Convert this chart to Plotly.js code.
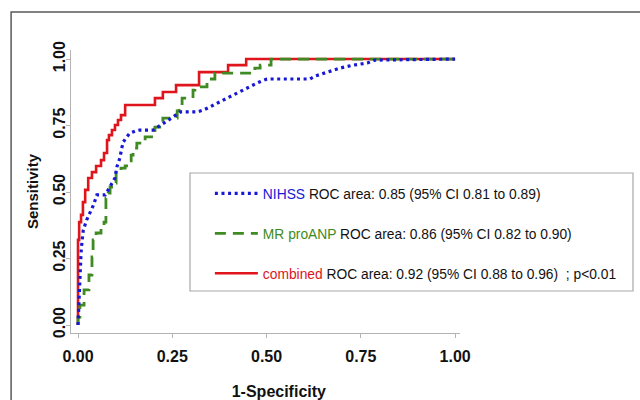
<!DOCTYPE html>
<html>
<head>
<meta charset="utf-8">
<script src="https://cdn.plot.ly/plotly-3.0.1.min.js"></script>
<style>
  html, body { margin: 0; padding: 0; background: #fff; }
  #chart { width: 640px; height: 400px; }
</style>
</head>
<body>
<div id="chart"></div>
<script>
// ROC curve data (1-specificity, sensitivity)
const combinedFpr = [0, 0, 0.003, 0.008, 0.013, 0.019, 0.027, 0.037, 0.048, 0.061, 0.069, 0.077, 0.082, 0.090, 0.098, 0.106, 0.114, 0.125, 0.204, 0.225, 0.260, 0.321, 0.398, 0.446, 1.0];
const combinedTpr = [0, 0.320, 0.387, 0.414, 0.462, 0.508, 0.553, 0.575, 0.598, 0.620, 0.647, 0.695, 0.714, 0.733, 0.752, 0.771, 0.789, 0.827, 0.853, 0.876, 0.902, 0.951, 0.977, 1.0, 1.0];

const proanpFpr = [0, 0, 0.005, 0.016, 0.029, 0.037, 0.040, 0.048, 0.061, 0.069, 0.074, 0.080, 0.085, 0.093, 0.101, 0.114, 0.125, 0.133, 0.141, 0.146, 0.156, 0.164, 0.178, 0.204, 0.225, 0.263, 0.268, 0.276, 0.305, 0.310, 0.342, 0.347, 0.363, 0.469, 0.483, 0.512, 1.0];
const proanpTpr = [0, 0.030, 0.075, 0.132, 0.188, 0.256, 0.320, 0.346, 0.368, 0.387, 0.477, 0.496, 0.519, 0.534, 0.575, 0.590, 0.598, 0.617, 0.639, 0.665, 0.684, 0.695, 0.707, 0.744, 0.778, 0.805, 0.816, 0.853, 0.883, 0.895, 0.910, 0.925, 0.947, 0.966, 0.977, 1.0, 1.0];

const nihssFpr = [0, 0.001, 0.003, 0.005, 0.008, 0.011, 0.014, 0.023, 0.032, 0.041, 0.050, 0.072, 0.080, 0.089, 0.098, 0.103, 0.111, 0.116, 0.120, 0.129, 0.138, 0.151, 0.164, 0.199, 0.218, 0.236, 0.252, 0.271, 0.316, 0.332, 0.350, 0.369, 0.395, 0.422, 0.448, 0.475, 0.501, 0.615, 0.629, 0.660, 0.695, 0.729, 0.767, 0.788, 1.0];
const nihssTpr = [0, 0.045, 0.120, 0.195, 0.271, 0.320, 0.357, 0.395, 0.425, 0.451, 0.489, 0.489, 0.508, 0.530, 0.553, 0.594, 0.628, 0.665, 0.688, 0.707, 0.722, 0.729, 0.733, 0.733, 0.752, 0.767, 0.782, 0.801, 0.801, 0.808, 0.820, 0.835, 0.853, 0.872, 0.891, 0.910, 0.925, 0.925, 0.936, 0.951, 0.966, 0.977, 0.985, 0.996, 1.0];

const xTickVals = [0, 0.25, 0.5, 0.75, 1.0];
const xTickText = ['0.00', '0.25', '0.50', '0.75', '1.00'];
const yTickVals = [0, 0.25, 0.5, 0.75, 1.0];
const yTickText = ['0.00', '0.25', '0.50', '0.75', '1.00'];

const seriesNames = ['NIHSS', 'MR proANP', 'combined'];
const seriesStats = [
  'ROC area: 0.85 (95% CI 0.81 to 0.89)',
  'ROC area: 0.86 (95% CI 0.82 to 0.90)',
  'ROC area: 0.92 (95% CI 0.88 to 0.96)  ; p&lt;0.01'
];

const BLUE = '#1717d6';
const GREEN = '#3f8a22';
const RED = '#e0141c';
const FONT = 'Liberation Sans, Arial, Helvetica, sans-serif';

function label(i, color) {
  return '<span style="color:' + color + '">' + seriesNames[i] + '</span> ' + seriesStats[i];
}

const traces = [
  {
    x: combinedFpr, y: combinedTpr, type: 'scatter', mode: 'lines',
    line: { color: RED, width: 2.6, shape: 'hv' },
    name: label(2, RED), legendgroup: 'c', legendrank: 3
  },
  {
    x: proanpFpr, y: proanpTpr, type: 'scatter', mode: 'lines',
    line: { color: GREEN, width: 2.8, shape: 'hv', dash: '11px,7px' },
    name: label(1, GREEN), legendgroup: 'b', legendrank: 2
  },
  {
    x: nihssFpr, y: nihssTpr, type: 'scatter', mode: 'lines',
    line: { color: BLUE, width: 3.2, dash: '3px,3.6px' },
    name: label(0, BLUE), legendgroup: 'a', legendrank: 1
  }
];

const axisCommon = {
  showgrid: false, zeroline: false, showline: true,
  linecolor: '#b4b4b4', linewidth: 1,
  ticks: 'outside', ticklen: 4, tickcolor: '#b4b4b4', tickwidth: 1,
  tickfont: { family: FONT, size: 16, color: '#111', weight: 'bold' }
};

const layout = {
  width: 640, height: 400,
  margin: { l: 71, r: 180, t: 50, b: 67 },
  paper_bgcolor: '#fff', plot_bgcolor: '#fff',
  showlegend: true,
  xaxis: Object.assign({}, axisCommon, {
    range: [-0.0186, 1.013],
    tickvals: xTickVals, ticktext: xTickText,
    ticklabelstandoff: 5,
    title: { text: '\u200b\u00a0\u00a0\u00a0\u00a0\u00a0\u00a01-Specificity', standoff: 21,
             font: { family: FONT, size: 16, color: '#111', weight: 'bold' } }
  }),
  yaxis: Object.assign({}, axisCommon, {
    range: [-0.030, 1.034],
    tickvals: yTickVals, ticktext: yTickText,
    tickangle: -90,
    ticklabelstandoff: -5,
    title: { text: 'Sensitivity', standoff: 8,
             font: { family: FONT, size: 15, color: '#111', weight: 'bold' } }
  }),
  legend: {
    x: 0.357, y: 0.548, xanchor: 'left', yanchor: 'top',
    bgcolor: 'rgba(0,0,0,0)', borderwidth: 0,
    traceorder: 'grouped', tracegroupgap: 19,
    itemwidth: 43,
    font: { family: FONT, size: 13.8, color: '#111' }
  },
  shapes: [
    { type: 'rect', xref: 'paper', yref: 'paper',
      x0: -0.154, x1: 1.6, y0: -0.4, y1: 1.134,
      line: { color: '#5a5a5a', width: 1.5 }, fillcolor: 'rgba(0,0,0,0)', layer: 'below' },
    { type: 'rect', xref: 'paper', yref: 'paper',
      x0: 0.3059, x1: 1.4447, y0: 0.1484, y1: 0.5654,
      line: { color: '#a8a8a8', width: 1.2 }, fillcolor: '#ffffff', layer: 'above' }
  ]
};

Plotly.newPlot('chart', traces, layout, { displayModeBar: false, staticPlot: true });
</script>
</body>
</html>
